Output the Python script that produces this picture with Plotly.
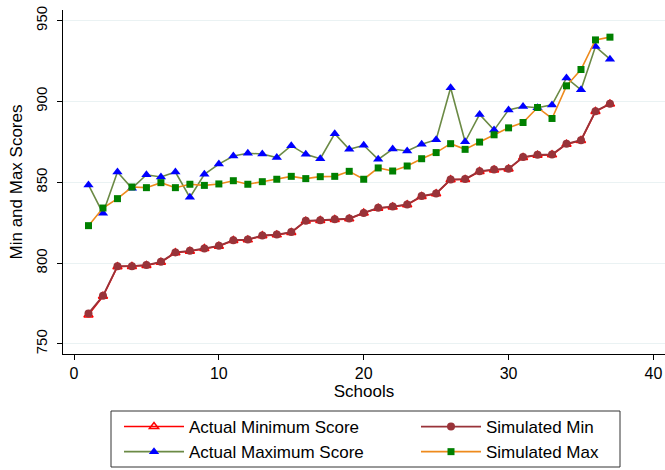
import plotly.graph_objects as go

schools = list(range(1, 38))

actual_min = [768, 779.5, 797.8, 798, 798.6, 800.6, 806.4, 807.4, 809, 810.5,
              814, 814.4, 817, 817.5, 819, 826, 826.4, 827, 827.4, 831,
              834, 834.8, 836.1, 841.2, 843, 851.6, 851.8, 856.7, 857.7, 858.2,
              865.4, 866.8, 867, 873.6, 875.9, 893.8, 898.4]
sim_min = [768.9, 779.8, 798.1, 798.1, 798.8, 800.8, 806.6, 807.6, 809.1, 810.7,
           814.2, 814.6, 817.1, 817.7, 819.2, 826.2, 826.6, 827.2, 827.6, 831.1,
           834.2, 835.0, 836.3, 841.5, 843.1, 851.8, 852.0, 856.9, 857.9, 858.4,
           865.6, 867.0, 867.2, 873.8, 876.1, 894.0, 898.6]
actual_max = [848.4, 830.8, 856.4, 846.3, 854.7, 853.3, 856.4, 840.7, 855.0, 861.3,
              866.3, 868.0, 867.5, 865.3, 872.7, 867.3, 864.6, 880.1, 870.4, 872.9,
              864.2, 870.6, 869.4, 873.6, 876.4, 908.5, 875.1, 892.0, 882.3, 894.8,
              896.9, 896.1, 897.9, 914.6, 907.2, 934.0, 926.2]
sim_max = [823.2, 834.1, 839.9, 847.1, 846.7, 849.8, 846.7, 848.8, 848.1, 849.0,
           851.0, 848.8, 850.4, 851.9, 853.7, 852.3, 853.5, 853.7, 856.8, 851.9,
           858.9, 857.0, 860.1, 864.6, 868.4, 873.9, 870.4, 874.9, 879.4, 883.7,
           887.0, 896.3, 889.5, 909.7, 919.8, 938.1, 939.8]

x_ticks = [0, 10, 20, 30, 40]
y_ticks = [750, 800, 850, 900, 950]

fig = go.Figure()

# Legend fills row by row: (Actual Min, Simulated Min), (Actual Max, Simulated Max)
fig.add_trace(go.Scatter(
    x=schools, y=actual_min, name="Actual Minimum Score", mode="lines+markers",
    line=dict(color="#ff0000", width=1.6),
    marker=dict(symbol="triangle-up-open", size=8, color="#ff0000", line=dict(width=1.5)),
))
fig.add_trace(go.Scatter(
    x=schools, y=sim_min, name="Simulated Min", mode="lines+markers",
    line=dict(color="#993339", width=1.8),
    marker=dict(symbol="circle", size=8, color="#993339"),
))
fig.add_trace(go.Scatter(
    x=schools, y=actual_max, name="Actual Maximum Score", mode="lines+markers",
    line=dict(color="#6b8a45", width=1.6),
    marker=dict(symbol="triangle-up", size=9, color="#0000ff"),
))
fig.add_trace(go.Scatter(
    x=schools, y=sim_max, name="Simulated Max", mode="lines+markers",
    line=dict(color="#ee8a1c", width=1.6),
    marker=dict(symbol="square", size=7, color="#008000"),
))

font = "Liberation Sans, Arial, sans-serif"

# plot area spans x 63..665 px, y 10..354 px
def px_x(p):
    return (p - 63) / 602.0

def px_y(p):
    return (354 - p) / 344.0

fig.update_layout(
    width=665, height=470,
    margin=dict(l=63, r=0, t=10, b=116, autoexpand=False),
    paper_bgcolor="white", plot_bgcolor="white",
    font=dict(family=font, size=16, color="black"),
    showlegend=True,
    legend=dict(
        orientation="h", x=px_x(119), xanchor="left", y=px_y(409), yanchor="top",
        borderwidth=0, bgcolor="rgba(0,0,0,0)",
        entrywidth=222, entrywidthmode="pixels", itemwidth=60,
        font=dict(family=font, size=17, color="black"),
    ),
    shapes=[dict(
        type="rect", xref="paper", yref="paper",
        x0=px_x(111), x1=px_x(620), y0=px_y(411), y1=px_y(467),
        line=dict(color="#333333", width=1), fillcolor="rgba(0,0,0,0)", layer="below",
    )],
    xaxis=dict(
        range=[-0.76, 40.8], tickvals=x_ticks, ticks="outside", ticklen=5,
        tickcolor="black", showline=True, linecolor="black", linewidth=1,
        showgrid=False, zeroline=False,
        title=dict(text="Schools", standoff=2, font=dict(size=17)),
        tickfont=dict(size=16),
    ),
    yaxis=dict(
        range=[743.8, 956.6], tickvals=y_ticks, ticks="outside", ticklen=5,
        tickcolor="black", showline=True, linecolor="black", linewidth=1,
        showgrid=True, gridcolor="#eaf2f3", gridwidth=1, zeroline=False,
        tickangle=-90, ticklabelstandoff=4,
        title=dict(text="Min and Max Scores", standoff=6, font=dict(size=17)),
        tickfont=dict(size=15),
    ),
)

fig.write_html("out.html")
